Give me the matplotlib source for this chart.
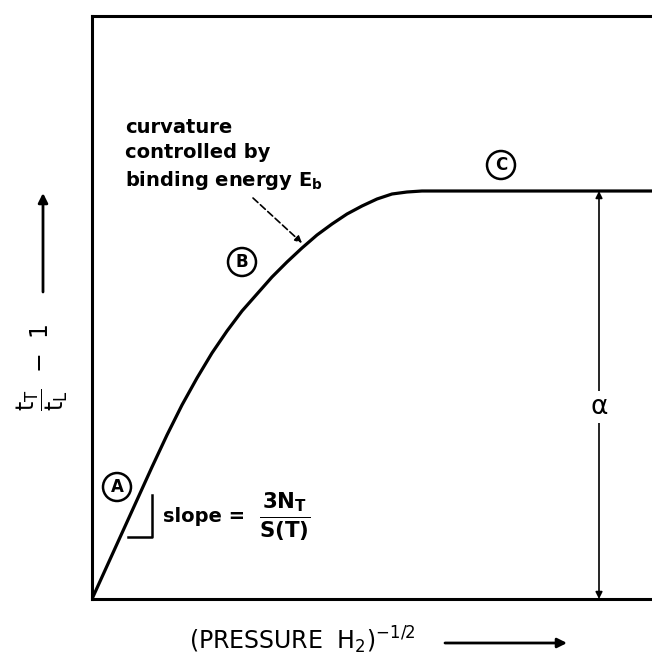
import matplotlib
matplotlib.use("Agg")
import matplotlib.pyplot as plt

# schematic curve: (PRESSURE H2)^-1/2 vs tT/tL - 1, arbitrary units
x_curve = [0, 15, 30, 45, 60, 75, 90, 105, 120, 135, 150, 165, 180, 195,
           210, 225, 240, 255, 270, 285, 300, 315, 330, 560]
y_curve = [0, 33, 66, 99, 132, 164, 194, 221, 246, 268, 288, 305, 322, 337,
           351, 364, 375, 385, 393, 400, 405, 407, 408, 408]

alpha_level = 408      # plateau height (region C)
x_alpha = 507          # where the alpha dimension is drawn
x_max, y_max = 560, 583

plt.rcParams["mathtext.fontset"] = "custom"
plt.rcParams["mathtext.rm"] = "DejaVu Sans"
plt.rcParams["mathtext.it"] = "DejaVu Sans"
plt.rcParams["mathtext.bf"] = "DejaVu Sans:bold"

W, H = 652, 657
fig = plt.figure(figsize=(W / 100, H / 100), dpi=100)
ax = fig.add_axes([92 / W, 58 / H, 560 / W, 583 / H])


def fpx(x, y):
    # pixel position (from top-left) -> figure fraction
    return x / W, 1 - y / H


ax.plot(x_curve, y_curve, color="black", lw=2.3,
        solid_capstyle="round", solid_joinstyle="round")
ax.set_xlim(0, x_max)
ax.set_ylim(0, y_max)
ax.set_xticks([])
ax.set_yticks([])
for side in ["left", "bottom", "top"]:
    ax.spines[side].set_linewidth(2.2)
ax.spines["right"].set_visible(False)

# alpha dimension arrow
ax.annotate("", xy=(x_alpha, alpha_level), xytext=(x_alpha, 0),
            arrowprops=dict(arrowstyle="<|-|>", color="black", lw=1.2,
                            mutation_scale=10, shrinkA=0, shrinkB=0))
ax.text(x_alpha, 192, r"$\alpha$", fontsize=19, ha="center", va="center",
        bbox=dict(facecolor="white", edgecolor="none", pad=2))

# circled region labels
circ = dict(boxstyle="circle,pad=0.3", facecolor="white", edgecolor="black", lw=1.8)
ax.text(25, 112, "A", fontsize=12, fontweight="bold", ha="center", va="center", bbox=circ)
ax.text(150, 337, "B", fontsize=12, fontweight="bold", ha="center", va="center", bbox=circ)
ax.text(409, 434, "C", fontsize=12, fontweight="bold", ha="center", va="center", bbox=circ)

# slope bracket
ax.plot([36, 60, 60], [62, 62, 104], color="black", lw=1.8)
ax.text(71, 82, "slope =", fontsize=14, fontweight="bold", ha="left", va="center")
ax.text(193, 82, r"$\frac{\mathbf{3N_T}}{\mathbf{S(T)}}$", fontsize=22,
        ha="center", va="center")

# curvature note
ax.text(33, 481, "curvature\ncontrolled by\nbinding energy E$_\\mathbf{b}$",
        fontsize=14, fontweight="bold", ha="left", va="top", linespacing=1.4)
ax.annotate("", xy=(210, 356), xytext=(161, 401),
            arrowprops=dict(arrowstyle="-|>", color="black", lw=1.2,
                            linestyle=(0, (4, 2)), mutation_scale=10,
                            shrinkA=0, shrinkB=0))

# axis labels with direction arrows
fig.text(*fpx(302, 640), r"(PRESSURE  H$_2$)$^{-1/2}$", fontsize=17,
         ha="center", va="center")
ax.annotate("", xy=fpx(567, 643), xytext=fpx(445, 643), xycoords="figure fraction",
            textcoords="figure fraction",
            arrowprops=dict(arrowstyle="-|>", color="black", lw=2,
                            mutation_scale=14, shrinkA=0, shrinkB=0))

fig.text(*fpx(42, 367), r"$\dfrac{t_T}{t_L}$  $-$  1", fontsize=17, rotation=90,
         ha="center", va="center")
ax.annotate("", xy=fpx(43, 193), xytext=fpx(43, 292), xycoords="figure fraction",
            textcoords="figure fraction",
            arrowprops=dict(arrowstyle="-|>", color="black", lw=2,
                            mutation_scale=14, shrinkA=0, shrinkB=0))

fig.savefig("out.png", dpi=100)
